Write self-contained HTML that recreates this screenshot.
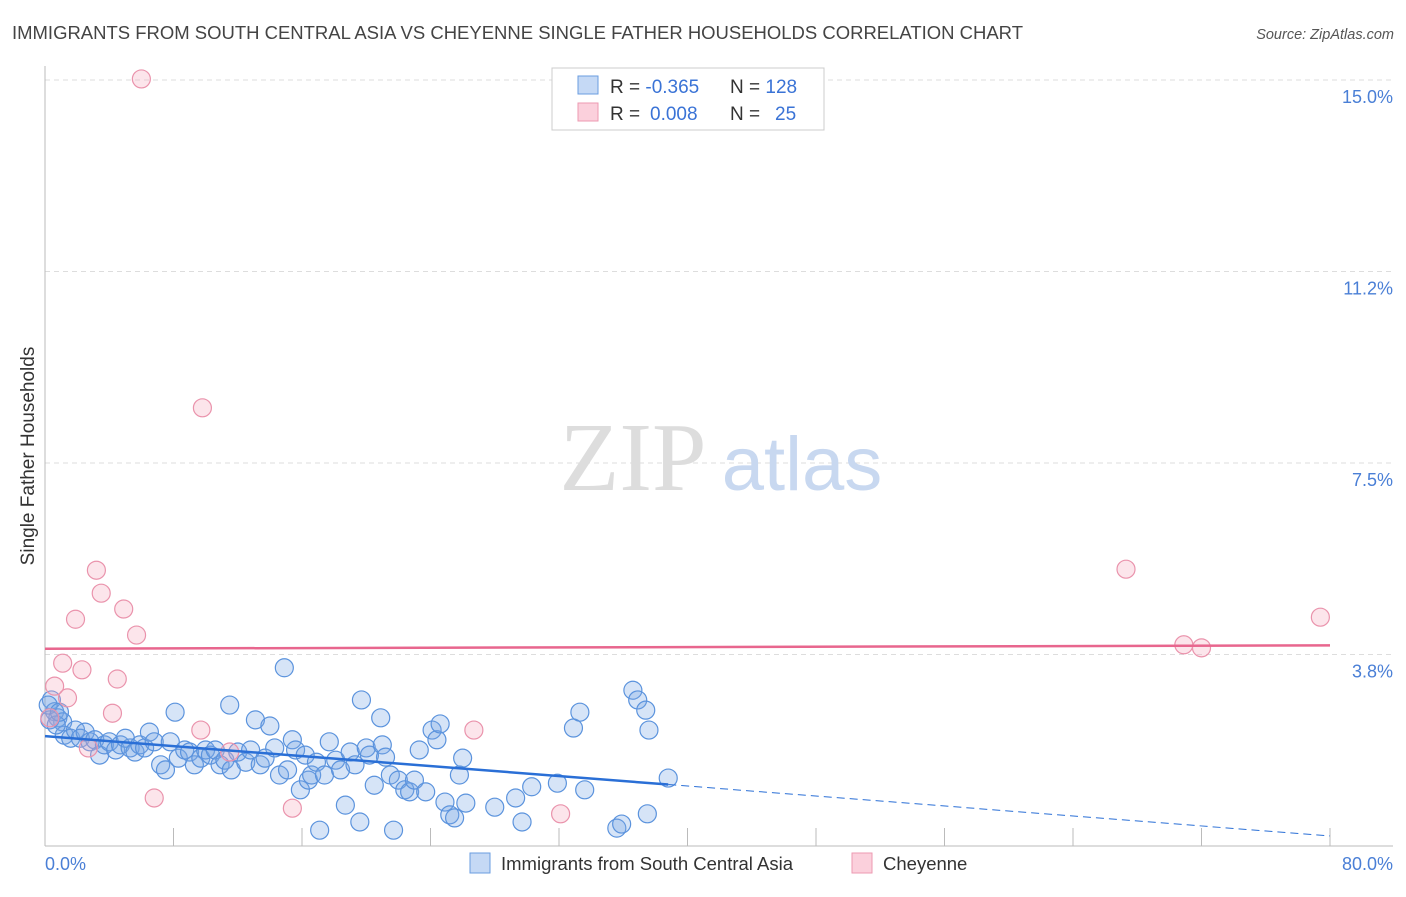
<!DOCTYPE html>
<html><head><meta charset="utf-8"><style>
body{margin:0;background:#fff;font-family:"Liberation Sans",sans-serif;}
svg text{font-family:"Liberation Sans",sans-serif;}
</style></head><body>
<svg id="chart" width="1406" height="892">
<text x="12" y="39" font-size="18.3" fill="#444" textLength="1011" lengthAdjust="spacingAndGlyphs">IMMIGRANTS FROM SOUTH CENTRAL ASIA VS CHEYENNE SINGLE FATHER HOUSEHOLDS CORRELATION CHART</text>
<text x="1394" y="39" font-size="14.5" fill="#555" text-anchor="end" font-style="italic">Source: ZipAtlas.com</text>
<g id="grid"></g>
<g><text x="633" y="490" font-size="98" fill="#ddd" text-anchor="middle" style="font-family:'Liberation Serif',serif">ZIP</text><text x="802" y="490" font-size="76" fill="#c8d8f0" text-anchor="middle">atlas</text></g>
<g id="marks"></g>
<text transform="translate(34,456) rotate(-90)" font-size="19" fill="#333" text-anchor="middle">Single Father Households</text>
<text x="45" y="870" font-size="18" fill="#4a7fd6">0.0%</text>
<text x="1393" y="870" font-size="18" fill="#4a7fd6" text-anchor="end">80.0%</text>
<g>
<rect x="552" y="68" width="272" height="62" fill="#fff" stroke="#ccc"/>
<rect x="578" y="76" width="20" height="18" fill="#c5d9f5" stroke="#6a9de0"/>
<rect x="578" y="103" width="20" height="18" fill="#fbd0dc" stroke="#ec9ab2"/>
<text x="610" y="93" font-size="19" fill="#333">R = <tspan fill="#3a73d6">-0.365</tspan><tspan x="730">N = </tspan><tspan fill="#3a73d6">128</tspan></text>
<text x="610" y="120" font-size="19" fill="#333">R = <tspan fill="#3a73d6" x="650">0.008</tspan><tspan x="730">N = </tspan><tspan fill="#3a73d6" x="775">25</tspan></text>
</g>
<g>
<rect x="470" y="853" width="20" height="20" fill="#c5d9f5" stroke="#6a9de0"/>
<text x="501" y="870" font-size="18.5" fill="#333">Immigrants from South Central Asia</text>
<rect x="852" y="853" width="20" height="20" fill="#fbd0dc" stroke="#ec9ab2"/>
<text x="883" y="870" font-size="18.5" fill="#333">Cheyenne</text>
</g>
</svg>
<script>
const yTicks=[3.75,7.5,11.25,15.0];
const yTickLabels=["3.8%","7.5%","11.2%","15.0%"];
const xTicks=[0,8,16,24,32,40,48,56,64,72,80];
const blueX=[0.4,0.6,0.8,1.1,0.3,1.2,1.6,1.9,2.2,2.5,2.8,3.1,3.4,3.7,4.0,4.4,4.7,5.0,5.3,5.6,5.9,6.2,6.5,6.8,7.2,7.5,7.8,8.1,8.3,8.7,9.0,9.3,9.7,10.0,10.3,10.6,10.9,11.2,11.5,11.6,12.0,12.5,12.8,13.1,13.4,13.7,14.0,14.3,14.6,14.9,15.1,15.4,15.6,15.9,16.2,16.4,16.6,16.9,17.1,17.4,17.7,18.1,18.4,18.7,19.0,19.3,19.6,19.7,20.0,20.2,20.5,20.9,21.0,21.2,21.5,21.7,22.0,22.4,22.7,23.0,23.3,23.7,24.1,24.4,24.6,24.9,25.2,25.5,25.8,26.0,26.2,28.0,29.3,29.7,30.3,31.9,32.9,33.3,33.6,35.6,35.9,36.6,36.9,37.4,37.6,37.5,38.8,0.2,0.7,0.9];
const blueY=[2.86,2.63,2.51,2.43,2.47,2.17,2.11,2.27,2.11,2.23,2.04,2.08,1.78,1.98,2.04,1.88,1.98,2.11,1.92,1.84,1.98,1.92,2.23,2.04,1.59,1.49,2.04,2.62,1.72,1.88,1.84,1.59,1.72,1.88,1.78,1.88,1.59,1.68,2.76,1.49,1.84,1.64,1.88,2.47,1.59,1.72,2.35,1.92,1.39,3.49,1.49,2.08,1.88,1.10,1.78,1.29,1.39,1.64,0.31,1.39,2.04,1.68,1.49,0.80,1.84,1.59,0.47,2.86,1.92,1.78,1.19,2.51,1.98,1.74,1.39,0.31,1.29,1.10,1.06,1.29,1.88,1.06,2.27,2.08,2.39,0.86,0.61,0.55,1.39,1.72,0.84,0.76,0.94,0.47,1.16,1.23,2.31,2.62,1.10,0.35,0.43,3.05,2.86,2.66,2.27,0.63,1.33,2.76,2.37,2.62];
const pinkX=[6.0,9.8,3.2,3.5,4.9,1.9,5.7,1.1,2.3,4.5,0.6,1.4,4.2,9.7,2.7,6.8,15.4,26.7,32.1,67.3,79.4,70.9,72.0,11.5,0.3];
const pinkY=[15.02,8.58,5.40,4.95,4.64,4.44,4.13,3.58,3.45,3.27,3.13,2.90,2.60,2.27,1.92,0.94,0.74,2.27,0.63,5.42,4.48,3.94,3.88,1.84,2.51];
const X0=45,X1=1330,Y0=846,PPY=51.07;
const sx=v=>X0+v/80*(X1-X0);
const sy=v=>Y0-v*PPY;
const NS="http://www.w3.org/2000/svg";
const grid=document.getElementById('grid'),marks=document.getElementById('marks');
function mk(tag,attrs,parent){const e=document.createElementNS(NS,tag);for(const k in attrs)e.setAttribute(k,attrs[k]);parent.appendChild(e);return e;}
yTicks.forEach((t,i)=>{
 const l=mk('line',{x1:45,x2:1393,y1:sy(t),y2:sy(t),stroke:'#ddd','stroke-dasharray':'5,4'},grid);
 
 
 const tx=mk('text',{x:1393,y:sy(t)+23,'font-size':18,fill:'#4a7fd6','text-anchor':'end'},grid);
 tx.textContent=yTickLabels[i];
 
 
});
const ax=mk('line',{x1:45,x2:45,y1:66,y2:846,stroke:'#bbb'},grid);


const bx=mk('line',{x1:45,x2:1393,y1:846,y2:846,stroke:'#bbb'},grid);


xTicks.forEach(t=>{
 const l=mk('line',{x1:sx(t),x2:sx(t),y1:828,y2:846,stroke:'#bbb'},grid);
 
 
});
function fit(xs,ys){const n=xs.length;let mx=0,my=0;for(let i=0;i<n;i++){mx+=xs[i];my+=ys[i];}mx/=n;my/=n;let sxy=0,sxx=0;for(let i=0;i<n;i++){sxy+=(xs[i]-mx)*(ys[i]-my);sxx+=(xs[i]-mx)**2;}const b=sxy/sxx;return [my-b*mx,b];}
blueX.forEach((x,i)=>{
 const c=mk('circle',{cx:sx(x),cy:sy(blueY[i]),r:9,fill:'rgba(120,165,230,0.3)',stroke:'#5b93dd','stroke-width':1.2},marks);
 
 
});
pinkX.forEach((x,i)=>{
 const c=mk('circle',{cx:sx(x),cy:sy(pinkY[i]),r:9,fill:'rgba(245,170,190,0.3)',stroke:'#ea93ac','stroke-width':1.2},marks);
 
 
});
const [ba,bb]=fit(blueX,blueY);
const bmax=Math.max(...blueX);
const l1=mk('line',{x1:sx(0),y1:sy(ba),x2:sx(bmax),y2:sy(ba+bb*bmax),stroke:'#2a6fd6','stroke-width':2.5},marks);


const l2=mk('line',{x1:sx(bmax),y1:sy(ba+bb*bmax),x2:sx(80),y2:sy(ba+bb*80),stroke:'#2a6fd6','stroke-width':1,'stroke-dasharray':'8,5'},marks);


const [pa,pb]=fit(pinkX,pinkY);
const l3=mk('line',{x1:sx(0),y1:sy(pa),x2:sx(80),y2:sy(pa+pb*80),stroke:'#e8668e','stroke-width':2.5},marks);


</script>
</body></html>
